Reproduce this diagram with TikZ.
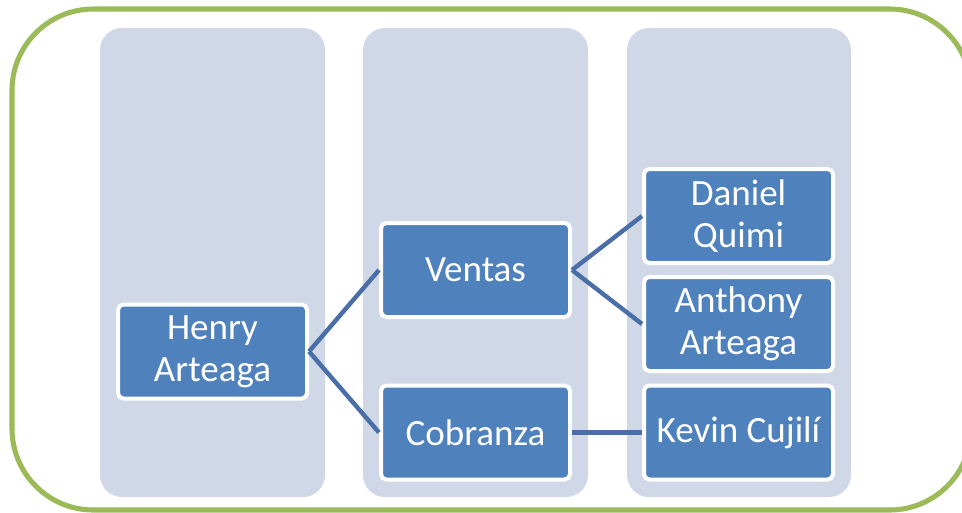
\documentclass[tikz,border=0pt]{standalone}
\usepackage{fontspec}
\setmainfont{Carlito}
\definecolor{framegreen}{HTML}{9BBB59}
\definecolor{colfill}{HTML}{D0D8E8}
\definecolor{boxfill}{HTML}{4F81BD}
\definecolor{linkblue}{HTML}{4A6EA8}
\begin{document}
\begin{tikzpicture}[x=0.75pt,y=-0.75pt,
  column/.style={fill=colfill,draw=none,rounded corners=16.5pt},
  person/.style={draw=white,line width=3pt,fill=boxfill,rounded corners=4pt,
    minimum width=141.75pt,minimum height=70.5pt,inner sep=0pt,align=center,
    text=white,font=\fontsize{27.8}{31.5}\selectfont},
  link/.style={draw=linkblue,line width=3.3pt}]
\useasboundingbox (0,0) rectangle (962,512);
\fill[white] (0,0) rectangle (962,512);
\draw[framegreen,line width=3.8pt,rounded corners=61pt] (12,9) rectangle (971,510);
\path[column] (100,28) rectangle (325,497);
\path[column] (363,28) rectangle (588,497);
\path[column] (627,28) rectangle (851,497);
\node[person] (henry) at (212.5,351.5) {Henry\\Arteaga};
\node[person] (ventas) at (475.5,270) {Ventas};
\node[person] (cobranza) at (475.5,432.5) {Cobranza};
\node[person] (daniel) at (738.5,216) {Daniel\\Quimi};
\node[person] (anthony) at (738.5,324) {Anthony\\Arteaga};
\node[person] (kevin) at (738.5,432.5) {Kevin Cujilí};
\draw[link] (henry.east) -- (ventas.west);
\draw[link] (henry.east) -- (cobranza.west);
\draw[link] (ventas.east) -- (daniel.west);
\draw[link] (ventas.east) -- (anthony.west);
\draw[link] (cobranza.east) -- (kevin.west);
\end{tikzpicture}
\end{document}
